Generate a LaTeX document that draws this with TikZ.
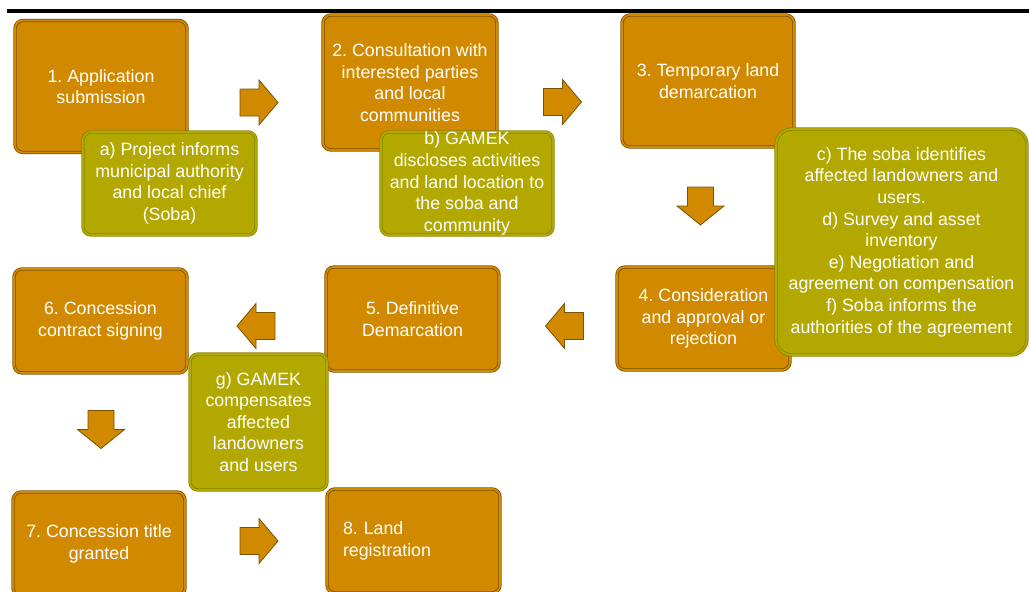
\documentclass[tikz,border=0pt]{standalone}
\usepackage{fontspec}
\setmainfont{Liberation Sans}
\frenchspacing
\definecolor{ochre}{HTML}{D18900}
\definecolor{ochreline}{HTML}{7A5200}
\definecolor{olive}{HTML}{B2A800}
\definecolor{oliveline}{HTML}{8A8400}
\tikzset{
  boxtext/.style={text=white, font=\fontsize{17.8}{21.6}\selectfont\frenchspacing, align=center, inner sep=0pt},
  obox/.style={boxtext, rectangle, rounded corners=8pt, fill=ochre, draw=ochreline,
    line width=0.8pt, double=ochre, double distance=1.8pt},
  gbox/.style={boxtext, rectangle, rounded corners=8pt, fill=olive, draw=oliveline,
    line width=0.8pt, double=olive, double distance=1.8pt},
  barrow/.style={fill=ochre, draw=ochreline, line width=0.8pt, line join=miter},
  rarr/.pic={\draw[barrow] (-19,-13.5) -- (0,-13.5) -- (0,-22.5) -- (19,0) -- (0,22.5) -- (0,13.5) -- (-19,13.5) -- cycle;},
  larr/.pic={\draw[barrow] (19,-13.5) -- (0,-13.5) -- (0,-22.5) -- (-19,0) -- (0,22.5) -- (0,13.5) -- (19,13.5) -- cycle;},
  darr/.pic={\draw[barrow] (-13,-19) -- (-13,0) -- (-23.5,0) -- (0,19) -- (23.5,0) -- (13,0) -- (13,-19) -- cycle;}
}
\begin{document}
\begin{tikzpicture}[x=1pt, y=-1pt]
\useasboundingbox (0,0) rectangle (1029,592);
\clip (0,0) rectangle (1029,592);

% heading rule
\coordinate (ruleL) at (7,11);
\coordinate (ruleR) at (1029,11);
\draw[line width=4pt] (ruleL) -- (ruleR);

% main procedure steps
\node[obox, minimum width=172pt, minimum height=132pt] (n1) at (101,86.5) {1. Application\\submission};
\node[obox, minimum width=174pt, minimum height=135pt] (n2) at (410,82.5) {2. Consultation with\\interested parties\\and local\\communities};
\node[obox, minimum width=172pt, minimum height=132pt] (n3) at (708,81) {3. Temporary land\\demarcation};
\node[obox, minimum width=173pt, minimum height=103pt] (n4) at (703.5,318.5) {4. Consideration\\and approval or\\rejection};
\node[obox, minimum width=173pt, minimum height=104pt] (n5) at (412.5,319) {5. Definitive\\Demarcation};
\node[obox, minimum width=173pt, minimum height=104pt] (n6) at (100.5,321) {6. Concession\\contract signing};
\node[obox, minimum width=172pt, minimum height=104pt] (n7) at (99,544) {7. Concession title\\granted};
\node[obox, minimum height=104pt, text width=141pt, inner xsep=16pt, align=left] (n8) at (413.5,541) {8. Land\\registration};

% accompanying actions
\node[gbox, minimum width=173pt, minimum height=103pt] (ga) at (169.5,183.5) {a) Project informs\\municipal authority\\and local chief\\(Soba)};
\node[gbox, minimum width=172pt, minimum height=103pt] (gb) at (467,183.5) {b) GAMEK\\discloses activities\\and land location to\\the soba and\\community};
\node[gbox, rounded corners=16pt, minimum width=251pt, minimum height=226pt] (gc) at (901.5,242) {c) The soba identifies\\affected landowners and\\users.\\d) Survey and asset\\inventory\\e) Negotiation and\\agreement on compensation\\f) Soba informs the\\authorities of the agreement};
\node[gbox, minimum width=137pt, minimum height=136pt] (gg) at (258.5,422) {g) GAMEK\\compensates\\affected\\landowners\\and users};

% flow arrows between the steps
\pic at (259,102.5) {rarr};
\pic at (562.5,102) {rarr};
\pic at (700.5,206) {darr};
\pic at (564.5,326) {larr};
\pic at (256,326) {larr};
\pic at (101,429.5) {darr};
\pic at (259,541) {rarr};
\end{tikzpicture}
\end{document}
